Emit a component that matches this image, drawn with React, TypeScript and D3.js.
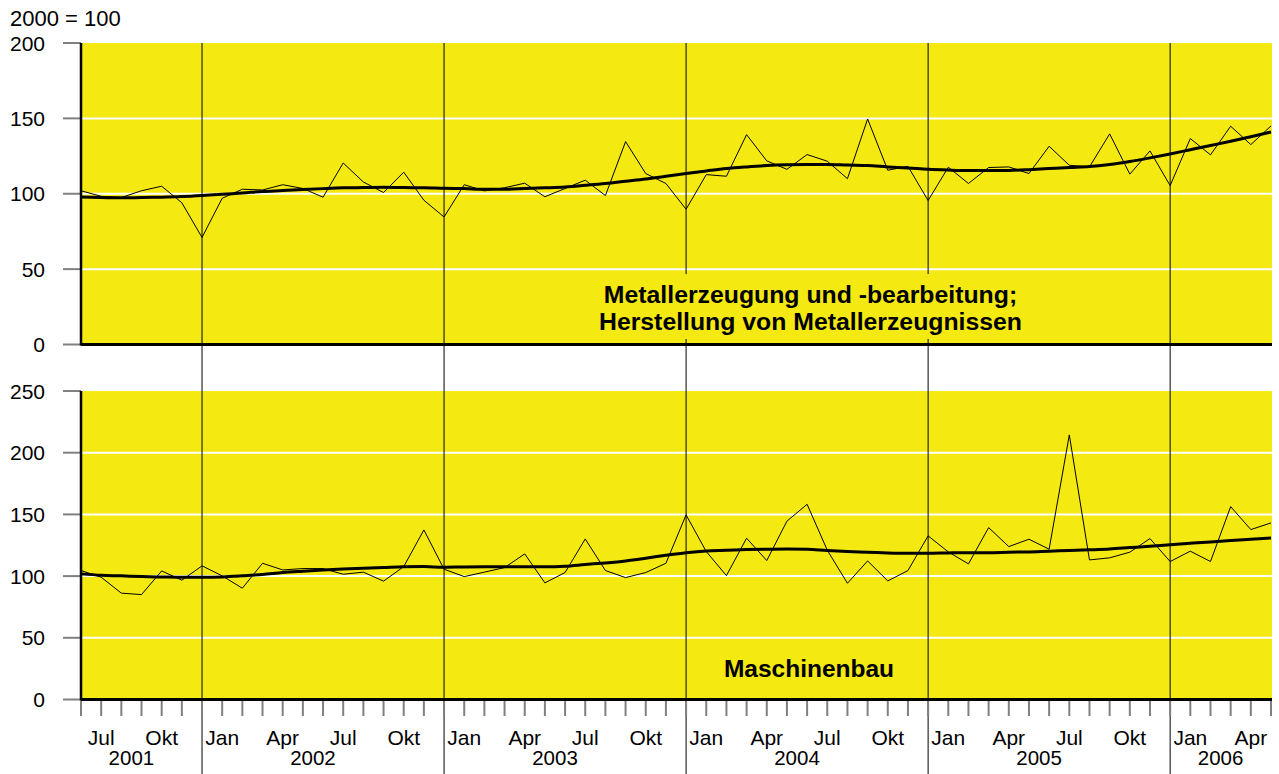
import React from 'react';
import * as d3 from 'd3';

const monthNames = ['Jan', 'Feb', 'Mär', 'Apr', 'Mai', 'Jun', 'Jul', 'Aug', 'Sep', 'Okt', 'Nov', 'Dez'];
const startYear = 2001;
const startMonth = 5; // Jun (0-based)
const monthCount = 60;
const labeledMonths = ['Jan', 'Apr', 'Jul', 'Okt'];
const years = [2001, 2002, 2003, 2004, 2005, 2006];

const topTicks = [0, 50, 100, 150, 200];
const bottomTicks = [0, 50, 100, 150, 200, 250];

const metallIndex = [102, 98.3, 97.5, 102, 105, 94, 71, 97, 103, 102.5, 106, 103.5, 97.7, 120.4, 107.8, 100.8, 114.3, 95.7, 84.6, 106, 101.9, 104, 107, 98, 103.5, 109, 98.8, 134.6, 113.4, 106.8, 89.7, 112.7, 111.6, 139.2, 121.8, 116.2, 126, 121.6, 110, 149.6, 115.6, 118.2, 95.5, 117.6, 106.8, 117.4, 117.8, 113.4, 131.5, 118.9, 117.8, 139.7, 113, 128.4, 105.4, 136.6, 125.8, 144.8, 132.6, 145];
const metallTrend = [97.9, 97.5, 97.3, 97.5, 97.7, 98.1, 98.8, 99.7, 100.5, 101.5, 102.1, 102.8, 103.4, 103.9, 104.1, 104.3, 104.1, 104, 103.6, 103.4, 103, 103, 103.4, 103.9, 104.5, 105.6, 106.8, 108.3, 109.8, 111.6, 113.4, 115.1, 116.7, 117.8, 118.7, 119.2, 119.4, 119.4, 119, 118.7, 117.8, 117.1, 116.2, 115.7, 115.4, 115.4, 115.5, 116, 116.7, 117.4, 118, 119.4, 121.4, 123.8, 126.4, 129.2, 132, 134.8, 137.8, 141];
const maschIndex = [104.5, 99.1, 86.2, 85, 104.2, 96.7, 108.3, 100.2, 90.2, 110.4, 105, 106.1, 106.1, 101.5, 103.2, 95.9, 107.7, 137.4, 105.6, 99.6, 103.2, 106.9, 118, 94.5, 102.9, 130.1, 104.5, 98.8, 102.9, 110.4, 149.6, 119.9, 100.4, 130.7, 112.6, 144.5, 158.2, 121, 94.2, 112.3, 96.1, 104.5, 132.6, 119.6, 109.9, 139.3, 123.9, 129.9, 121.8, 214.4, 113.1, 114.8, 119.4, 130.4, 111.8, 120.2, 111.8, 156.3, 137.7, 143.1];
const maschTrend = [101.8, 100.7, 100.2, 99.6, 99.3, 99, 99, 99.3, 100.2, 101.3, 102.9, 104, 105, 105.8, 106.3, 106.9, 107.5, 107.7, 107.2, 107.4, 107.5, 107.5, 107.5, 107.5, 108, 109.4, 110.7, 112.3, 114.5, 116.9, 119, 120.4, 120.9, 121.5, 121.8, 122, 121.8, 120.7, 119.9, 119.4, 118.8, 118.5, 118.5, 118.8, 119, 119, 119.4, 119.6, 120.2, 120.7, 121.3, 122, 123.1, 124.2, 125.5, 126.6, 127.7, 128.8, 129.9, 130.9];

const months = d3.range(monthCount).map((i) => {
  const m = (startMonth + i) % 12;
  const y = startYear + Math.floor((startMonth + i) / 12);
  return { i, m, y, name: monthNames[m] };
});

const W = 1279;
const H = 774;
const X0 = 81;
const X1 = 1271;
const YELLOW = '#f4e911';
const FONT = '"Liberation Sans", Arial, sans-serif';

const x = d3.scaleLinear().domain([0, monthCount - 1]).range([X0, X1]);
const yTop = d3.scaleLinear().domain([0, 200]).range([344.5, 43]);
const yBot = d3.scaleLinear().domain([0, 250]).range([699.5, 391]);

function Panel({ y, ticks, index, trend }: { y: d3.ScaleLinear<number, number>; ticks: number[]; index: number[]; trend: number[] }) {
  const [d0, d1] = y.domain();
  const line = d3.line<number>().x((_, i) => x(i)).y((v) => y(v));
  const trendLine = d3.line<number>().x((_, i) => x(i)).y((v) => y(v)).curve(d3.curveMonotoneX);
  return (
    <g>
      <rect x={X0} y={y(d1)} width={X1 + 1 - X0} height={y(d0) - y(d1)} fill={YELLOW} />
      {ticks.filter((t) => t !== d0 && t !== d1).map((t) => (
        <line key={'g' + t} x1={X0} x2={X1 + 1} y1={y(t)} y2={y(t)} stroke="#fff" strokeWidth={2} />
      ))}
      {ticks.map((t) => (
        <g key={'t' + t}>
          <line x1={63} x2={X0} y1={y(t)} y2={y(t)} stroke="#808080" strokeWidth={2} />
          <text x={45} y={y(t)} dy="0.36em" textAnchor="end" fontSize={21} fontFamily={FONT} fill="#000">
            {t}
          </text>
        </g>
      ))}
      <path d={line(index) || ''} fill="none" stroke="#000" strokeWidth={1} />
      <path d={trendLine(trend) || ''} fill="none" stroke="#000" strokeWidth={3} />
      <line x1={X0} x2={X0} y1={y(d1)} y2={y(d0) + 1} stroke="#000" strokeWidth={2.5} />
      <line x1={X0} x2={X1 + 1} y1={y(d0)} y2={y(d0)} stroke="#000" strokeWidth={3} />
    </g>
  );
}

export default function App() {
  const step = x(1) - x(0);
  const yearStarts = months.filter((d) => d.m === 11).map((d) => d.i);
  return (
    <svg width={W} height={H} style={{ position: 'absolute', left: 0, top: 0, background: '#fff' }}>
      <text x={10} y={26} fontSize={22} fontFamily={FONT}>2000 = 100</text>
      <Panel y={yTop} ticks={topTicks} index={metallIndex} trend={metallTrend} />
      <Panel y={yBot} ticks={bottomTicks} index={maschIndex} trend={maschTrend} />
      {/* year separator lines */}
      {yearStarts.map((i) => (
        <line key={'y' + i} x1={x(i)} x2={x(i)} y1={43} y2={H} stroke="#000" strokeWidth={1} />
      ))}
      {/* month ticks */}
      {months.map((d) => (
        <line key={'m' + d.i} x1={x(d.i)} x2={x(d.i)} y1={701} y2={716} stroke="#808080" strokeWidth={2} />
      ))}
      {months.filter((d) => labeledMonths.includes(d.name)).map((d) => (
        <text key={'ml' + d.i} x={x(d.i)} y={745} textAnchor="middle" fontSize={21} fontFamily={FONT}>
          {d.name}
        </text>
      ))}
      {years.map((yr) => {
        const ms = months.filter((d) => d.y === yr);
        const first = ms[0].i;
        const last = ms[ms.length - 1].i;
        const full = ms.length === 12;
        const cx = (x(first) + x(last)) / 2 - (full ? step : step / 2);
        return (
          <text key={'yl' + yr} x={cx} y={765} textAnchor="middle" fontSize={20.5} fontFamily={FONT}>
            {yr}
          </text>
        );
      })}
      {/* titles */}
      <rect x={596} y={274} width={430} height={65} fill={YELLOW} />
      <text x={810.5} y={302.5} textAnchor="middle" fontSize={24.8} fontWeight="bold" fontFamily={FONT}>
        Metallerzeugung und -bearbeitung;
      </text>
      <text x={810.5} y={330} textAnchor="middle" fontSize={24.8} fontWeight="bold" fontFamily={FONT}>
        Herstellung von Metallerzeugnissen
      </text>
      <text x={809} y={677} textAnchor="middle" fontSize={24.5} fontWeight="bold" fontFamily={FONT}>
        Maschinenbau
      </text>
    </svg>
  );
}
